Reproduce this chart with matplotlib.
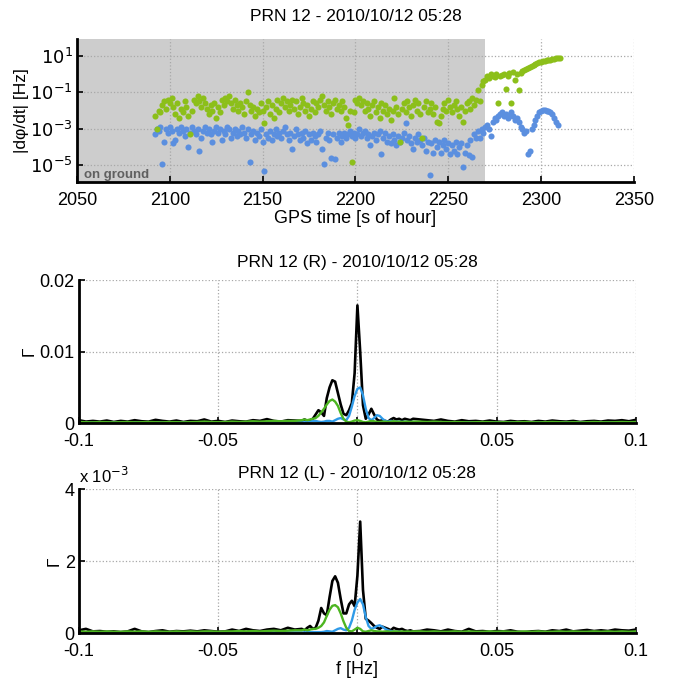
import numpy as np
from matplotlib import pyplot as plt

# ---- top panel: phase rate per second, log10 values ----
t_start = 2092
green_log = [
    -2.3, -3.0, -2.0, -2.1, -1.7, -1.5, -1.9, -1.4, -1.6, -1.3,
    -1.8, -2.2, -1.6, -2.4, -1.9, -2.1, -1.5, -1.8, -2.3, -3.3,
    -2.0, -1.4, -1.6, -1.2, -1.5, -1.8, -1.3, -1.6, -1.9, -2.2,
    -1.7, -2.0, -1.6, -2.4, -1.8, -2.1, -1.4, -1.7, -1.3, -1.5,
    -1.2, -1.6, -1.9, -1.4, -1.7, -2.0, -1.6, -1.8, -2.2, -1.5,
    -1.0, -1.7, -2.0, -1.8, -2.3, -1.9, -2.1, -1.6, -2.0, -2.7,
    -1.8, -1.5, -2.2, -1.7, -2.4, -1.9, -1.4, -2.1, -1.6, -1.3,
    -1.8, -1.5, -2.0, -1.7, -1.4, -1.9, -1.5, -2.2, -1.8, -1.3,
    -1.6, -2.0, -1.7, -2.3, -1.9, -1.5, -2.1, -1.6, -1.8, -1.4,
    -1.2, -1.7, -2.0, -1.5, -1.8, -2.2, -1.6, -1.4, -1.9, -1.7,
    -2.0, -1.5, -1.8, -2.4, -2.8, -2.0, -4.8, -2.1, -1.4, -1.6,
    -1.3, -1.7, -1.5, -2.0, -1.6, -1.9, -2.3, -1.7, -1.5, -2.1,
    -1.8, -2.4, -1.6, -2.0, -1.7, -2.2, -1.9, -2.5, -2.0, -1.3,
    -1.8, -2.2, -3.7, -1.9, -1.6, -2.1, -1.5, -1.8, -2.3, -1.7,
    -1.4, -2.0, -1.6, -2.2, -3.5, -1.8, -1.5, -2.1, -1.9, -1.6,
    -2.2, -1.8, -2.6, -2.7, -2.3, -1.9, -1.6, -2.0, -1.4, -1.8,
    -2.1, -1.7, -1.5, -1.9, -2.3, -1.8, -2.6, -2.0, -1.6, -1.5,
    -1.9, -1.3, -1.7, -1.4, -0.9, -1.5, -0.6, -0.4, -0.3, -0.1,
    -0.2, 0.0, -0.1, -0.15, 0.0, -1.6, -0.1, -0.05, 0.0, -0.8,
    -0.1, 0.05, -1.6, 0.1, -0.3, 0.0, -0.9, 0.05, 0.15, 0.2,
    0.3, 0.35, 0.4, 0.45, 0.5, 0.55, 0.6, 0.65, 0.65, 0.7,
    0.72, 0.75, 0.75, 0.78, 0.8, 0.82, 0.85, 0.87, 0.88,
]
blue_log = [
    -3.3, -3.0, -3.1, -2.9, -4.9, -3.7, -3.0, -3.2, -2.9, -3.1,
    -3.8, -3.6, -3.0, -3.2, -2.9, -3.1, -3.4, -3.0, -4.0, -3.2,
    -2.9, -3.1, -3.3, -3.0, -4.2, -3.5, -3.1, -2.9, -3.2, -3.0,
    -3.3, -3.7, -3.1, -2.9, -3.2, -3.0, -3.6, -3.1, -3.3, -2.9,
    -3.0, -3.5, -3.2, -3.0, -3.4, -3.1, -3.3, -2.9, -3.2, -3.5,
    -3.0, -4.8, -3.3, -3.1, -3.6, -3.2, -3.4, -3.0, -3.7, -5.3,
    -3.3, -3.5, -3.1, -3.6, -3.3, -3.0, -3.4, -3.2, -3.5, -3.1,
    -2.9, -3.3, -3.6, -3.2, -4.1, -3.4, -3.0, -3.3, -3.6, -3.2,
    -3.5, -3.1, -3.8, -3.3, -3.6, -3.2, -3.4, -3.7, -3.3, -3.1,
    -4.1, -4.9, -3.5, -3.2, -3.6, -4.6, -3.3, -4.65, -3.5, -3.2,
    -3.7, -3.4, -3.2, -3.5, -3.3, -3.1, -3.4, -3.2, -3.5, -3.3,
    -3.0, -3.4, -3.2, -3.1, -3.5, -3.3, -3.9, -3.4, -3.2, -3.6,
    -3.3, -3.1, -4.4, -3.5, -3.2, -3.7, -3.4, -3.8, -3.3, -3.6,
    -3.9, -3.4, -3.7, -3.5, -3.2, -2.7, -3.6, -3.4, -3.8, -4.1,
    -3.5, -3.7, -3.3, -3.6, -3.9, -3.5, -4.2, -3.7, -5.55, -3.8,
    -4.3, -3.6, -4.0, -3.7, -4.3, -3.9, -3.6, -4.1, -3.8, -4.4,
    -3.9, -4.2, -3.7, -4.4, -4.0, -3.8, -5.1, -4.3, -3.9, -4.45,
    -3.6, -4.55, -3.3, -3.5, -3.1, -3.5, -3.0, -3.2, -2.9, -2.8,
    -3.0, -3.4, -2.6, -2.4, -2.5, -2.3, -2.2, -2.1, -2.3, -2.2,
    -2.4, -2.3, -2.1, -2.3, -2.5, -2.4, -2.6, -2.9, -3.0, -3.25,
    -3.1, -4.4, -4.2, -3.0, -2.8, -2.5, -2.3, -2.1, -2.0, -1.95,
    -1.95, -2.0, -2.0, -2.1, -2.2, -2.4, -2.6, -2.8,
]
ground_end = 2270

# ---- spectra: frequency grid (coarse tails, fine centre) ----
f_left = [-0.1 + 0.0025 * k for k in range(32)]
f_mid = [-0.02 + 0.001 * k for k in range(41)]
f_right = [0.0225 + 0.0025 * k for k in range(32)]

# R channel, units of 1e-3
r_black = [
    0.4, 0.2, 0.3, 0.2, 0.35, 0.15, 0.3, 0.2, 0.4, 0.25, 0.2, 0.45, 0.3, 0.2, 0.35, 0.15,
    0.3, 0.25, 0.5, 0.2, 0.3, 0.15, 0.35, 0.25, 0.2, 0.4, 0.3, 0.55, 0.3, 0.2, 0.4, 0.35,
    0.3, 0.5, 0.3, 0.4, 0.6, 1.2, 1.8, 1.5, 1.0, 3.5, 5.0, 6.0, 5.8, 4.2, 2.6, 1.3, 1.1,
    1.8, 2.8, 7.0, 16.5, 10.0, 2.5, 0.6, 1.2, 2.0, 1.2, 0.5, 0.3, 0.4, 0.3, 0.2, 0.5, 0.7,
    0.5, 0.6, 0.4, 0.6, 0.5, 0.4, 0.6,
    0.5, 0.4, 0.3, 0.5, 0.3, 0.2, 0.4, 0.25, 0.3, 0.2, 0.35, 0.2, 0.15, 0.3, 0.2, 0.25,
    0.15, 0.3, 0.2, 0.35, 0.25, 0.2, 0.3, 0.15, 0.25, 0.3, 0.2, 0.35, 0.3, 0.4, 0.25, 0.45,
]
r_green = [
    0.15, 0.12, 0.1, 0.15, 0.12, 0.1, 0.12, 0.15, 0.1, 0.12, 0.15, 0.12, 0.1, 0.15, 0.12, 0.1,
    0.12, 0.15, 0.2, 0.15, 0.12, 0.15, 0.2, 0.15, 0.2, 0.25, 0.2, 0.25, 0.3, 0.25, 0.3, 0.3,
    0.4, 0.5, 0.4, 0.5, 0.6, 0.7, 1.0, 1.5, 2.0, 2.6, 3.1, 3.3, 3.0, 2.4, 1.4, 0.6, 0.2,
    0.1, 0.2, 0.35, 0.4, 0.3, 0.15, 0.1, 0.2, 0.3, 0.25, 0.15, 0.15, 0.2, 0.2, 0.15, 0.2,
    0.25, 0.2, 0.2, 0.15, 0.2, 0.2, 0.15, 0.2,
    0.2, 0.15, 0.2, 0.15, 0.12, 0.15, 0.12, 0.1, 0.12, 0.15, 0.12, 0.1, 0.12, 0.1, 0.12, 0.15,
    0.12, 0.1, 0.12, 0.15, 0.12, 0.1, 0.12, 0.1, 0.12, 0.15, 0.12, 0.1, 0.12, 0.15, 0.12, 0.15,
]
r_blue = [
    0.05, 0.05, 0.06, 0.05, 0.05, 0.06, 0.05, 0.05, 0.06, 0.05, 0.05, 0.06, 0.05, 0.05, 0.06, 0.05,
    0.05, 0.06, 0.05, 0.05, 0.06, 0.05, 0.05, 0.06, 0.05, 0.08, 0.06, 0.08, 0.1, 0.08, 0.1, 0.1,
    0.1, 0.1, 0.15, 0.2, 0.3, 0.3, 0.2, 0.15, 0.2, 0.3, 0.3, 0.2, 0.4, 0.6, 0.7, 0.5, 0.4,
    1.0, 2.3, 3.8, 4.8, 5.0, 3.9, 2.0, 0.7, 0.4, 0.7, 1.1, 1.0, 0.6, 0.3, 0.2, 0.3, 0.25,
    0.2, 0.2, 0.15, 0.2, 0.15, 0.15, 0.15,
    0.1, 0.12, 0.1, 0.08, 0.1, 0.08, 0.06, 0.08, 0.06, 0.05, 0.06, 0.05, 0.05, 0.06, 0.05, 0.05,
    0.06, 0.05, 0.05, 0.06, 0.05, 0.05, 0.06, 0.05, 0.05, 0.06, 0.05, 0.05, 0.06, 0.05, 0.05, 0.06,
]

# L channel, units of 1e-3
l_black = [
    0.08, 0.12, 0.05, 0.06, 0.04, 0.05, 0.03, 0.05, 0.12, 0.05, 0.03, 0.06, 0.08, 0.04, 0.06, 0.05,
    0.07, 0.05, 0.08, 0.06, 0.04, 0.05, 0.10, 0.06, 0.12, 0.08, 0.06, 0.10, 0.12, 0.08, 0.15, 0.10,
    0.12, 0.08, 0.15, 0.20, 0.12, 0.15, 0.35, 0.70, 0.55, 0.50, 1.00, 1.45, 1.58, 1.40, 0.95, 0.55,
    0.55, 0.80, 0.90, 0.75, 1.60, 3.10, 1.20, 0.40, 0.35, 0.28, 0.20, 0.15, 0.12, 0.18, 0.15, 0.12,
    0.08, 0.15, 0.12, 0.10, 0.12, 0.08, 0.06, 0.08, 0.05,
    0.06, 0.10, 0.08, 0.05, 0.10, 0.06, 0.04, 0.12, 0.05, 0.06, 0.04, 0.06, 0.05, 0.08, 0.04, 0.03,
    0.05, 0.06, 0.04, 0.08, 0.06, 0.10, 0.05, 0.07, 0.09, 0.06, 0.08, 0.06, 0.10, 0.08, 0.07, 0.10,
]
l_green = [
    0.05, 0.04, 0.05, 0.04, 0.05, 0.04, 0.04, 0.05, 0.04, 0.05, 0.04, 0.05, 0.04, 0.04, 0.05, 0.04,
    0.05, 0.04, 0.05, 0.05, 0.04, 0.05, 0.05, 0.06, 0.05, 0.06, 0.05, 0.06, 0.07, 0.06, 0.07, 0.08,
    0.08, 0.10, 0.08, 0.10, 0.12, 0.12, 0.15, 0.20, 0.30, 0.48, 0.65, 0.76, 0.78, 0.72, 0.55, 0.33,
    0.15, 0.06, 0.05, 0.10, 0.15, 0.12, 0.05, 0.04, 0.06, 0.08, 0.06, 0.05, 0.05, 0.04, 0.05, 0.05,
    0.04, 0.05, 0.05, 0.04, 0.05, 0.04, 0.05, 0.04, 0.05,
    0.05, 0.04, 0.05, 0.04, 0.04, 0.05, 0.04, 0.05, 0.04, 0.04, 0.05, 0.04, 0.05, 0.04, 0.04, 0.05,
    0.04, 0.05, 0.04, 0.04, 0.05, 0.04, 0.05, 0.04, 0.04, 0.05, 0.04, 0.05, 0.04, 0.05, 0.04, 0.05,
]
l_blue = [
    0.02, 0.02, 0.02, 0.02, 0.02, 0.02, 0.02, 0.02, 0.02, 0.02, 0.02, 0.02, 0.02, 0.02, 0.02, 0.02,
    0.02, 0.02, 0.02, 0.02, 0.02, 0.02, 0.02, 0.02, 0.02, 0.02, 0.02, 0.02, 0.02, 0.02, 0.02, 0.02,
    0.02, 0.02, 0.03, 0.03, 0.03, 0.03, 0.03, 0.03, 0.04, 0.06, 0.05, 0.04, 0.08, 0.12, 0.14, 0.10,
    0.08, 0.15, 0.35, 0.65, 0.85, 0.95, 0.80, 0.45, 0.20, 0.12, 0.15, 0.20, 0.22, 0.18, 0.12, 0.08,
    0.06, 0.05, 0.04, 0.04, 0.03, 0.03, 0.03, 0.03, 0.03,
    0.02, 0.02, 0.02, 0.02, 0.02, 0.02, 0.02, 0.02, 0.02, 0.02, 0.02, 0.02, 0.02, 0.02, 0.02, 0.02,
    0.02, 0.02, 0.02, 0.02, 0.02, 0.02, 0.02, 0.02, 0.02, 0.02, 0.02, 0.02, 0.02, 0.02, 0.02, 0.02,
]

dot_green = '#8cbf1a'
dot_blue = '#5b8fdf'
line_green = '#4cb520'
line_blue = '#2f9be8'

plt.rcParams['font.family'] = ['Liberation Sans', 'DejaVu Sans']
plt.rcParams['font.size'] = 12


def style_axes(ax):
    for s in ['top', 'right']:
        ax.spines[s].set_visible(False)
    for s in ['left', 'bottom']:
        ax.spines[s].set_linewidth(2)
    ax.tick_params(direction='in', length=4, width=1.2, labelsize=13)
    ax.tick_params(axis='x', pad=7)
    ax.tick_params(axis='y', pad=3)
    ax.grid(True, ls=':', lw=0.9, color='#a8a8a8')


fig = plt.figure(figsize=(6.75, 6.89), dpi=100)

# ---- top panel ----
ax1 = fig.add_axes([0.114, 0.736, 0.825, 0.207])
t = np.arange(t_start, t_start + len(green_log))
tb = np.arange(t_start, t_start + len(blue_log))
ax1.axvspan(2050, ground_end, color='#cdcdcd', lw=0, zorder=0.5)
ax1.plot(tb, 10.0 ** np.array(blue_log), 'o', ms=4.4, color=dot_blue, mec='none')
ax1.plot(t, 10.0 ** np.array(green_log), 'o', ms=4.4, color=dot_green, mec='none')
ax1.set_yscale('log')
ax1.set_xlim(2050, 2350)
ax1.set_ylim(10 ** -5.9, 10 ** 1.9)
ax1.set_yticks([1e-5, 1e-3, 1e-1, 1e1])
ax1.set_yticklabels([r'$10^{-5}$', r'$10^{-3}$', r'$10^{-1}$', r'$10^{1}$'])
ax1.yaxis.set_minor_locator(plt.NullLocator())
ax1.set_xticks([2050, 2100, 2150, 2200, 2250, 2300, 2350])
style_axes(ax1)
ax1.text(2054, 10 ** -5.55, 'on ground', fontsize=9.5, color='#606060', fontweight='bold', va='center')
ax1.set_title('PRN 12 - 2010/10/12 05:28', fontsize=12.5, pad=13)
ax1.set_xlabel('GPS time [s of hour]', fontsize=13, labelpad=1)
ax1.set_ylabel('|dφ/dt| [Hz]', fontsize=12.5, labelpad=1)

f_all = np.array(f_left + f_mid + f_right)

# ---- R spectrum ----
ax2 = fig.add_axes([0.117, 0.386, 0.825, 0.207])
ax2.plot(f_all, np.array(r_black) * 1e-3, color='k', lw=1.9)
ax2.plot(f_all, np.array(r_blue) * 1e-3, color=line_blue, lw=1.7)
ax2.plot(f_all, np.array(r_green) * 1e-3, color=line_green, lw=1.7)
ax2.set_xlim(-0.1, 0.1)
ax2.set_ylim(0, 0.02)
ax2.set_xticks([-0.1, -0.05, 0, 0.05, 0.1])
ax2.set_xticklabels(['-0.1', '-0.05', '0', '0.05', '0.1'])
ax2.set_yticks([0, 0.01, 0.02])
ax2.set_yticklabels(['0', '0.01', '0.02'])
style_axes(ax2)
ax2.set_title('PRN 12 (R) - 2010/10/12 05:28', fontsize=12.5, pad=10)
ax2.set_ylabel('Γ', fontsize=12.5, labelpad=2)

# ---- L spectrum ----
ax3 = fig.add_axes([0.117, 0.081, 0.825, 0.209])
ax3.plot(f_all, l_black, color='k', lw=1.9)
ax3.plot(f_all, l_blue, color=line_blue, lw=1.7)
ax3.plot(f_all, l_green, color=line_green, lw=1.7)
ax3.set_xlim(-0.1, 0.1)
ax3.set_ylim(0, 4)
ax3.set_xticks([-0.1, -0.05, 0, 0.05, 0.1])
ax3.set_xticklabels(['-0.1', '-0.05', '0', '0.05', '0.1'])
ax3.set_yticks([0, 2, 4])
style_axes(ax3)
ax3.text(0.0, 1.02, r'x 10$^{-3}$', transform=ax3.transAxes, fontsize=12, va='bottom')
ax3.set_title('PRN 12 (L) - 2010/10/12 05:28', fontsize=12.5, pad=8)
ax3.set_ylabel('Γ', fontsize=12.5, labelpad=2)
ax3.set_xlabel('f [Hz]', fontsize=13, labelpad=1)

fig.savefig('out.png', dpi=100)
